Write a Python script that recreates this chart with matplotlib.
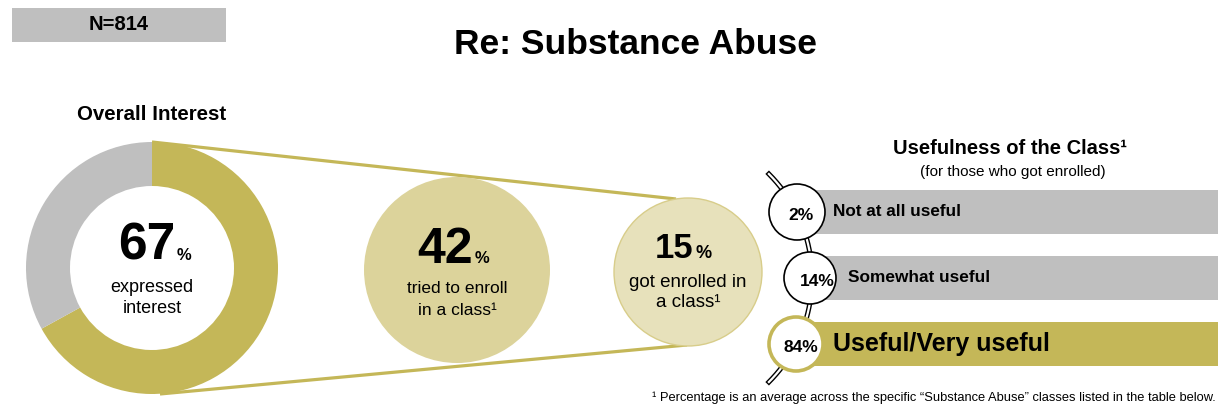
import numpy as np
import matplotlib.pyplot as plt
from matplotlib.patches import Wedge, Circle, Rectangle

plt.rcParams['font.family'] = ['Liberation Sans', 'DejaVu Sans']

# data
sample_n = 814
overall_pct = 67
funnel_pcts = [42, 15]
funnel_lines = [["tried to enroll", "in a class¹"], ["got enrolled in", "a class¹"]]
useful_pcts = [2, 14, 84]
useful_labels = ["Not at all useful", "Somewhat useful", "Useful/Very useful"]

gold = '#c4b758'
grey = '#bfbfbf'
light1 = '#dcd39b'
light2 = '#e7e1bb'

W, H = 1220, 409
fig = plt.figure(figsize=(W / 100, H / 100), dpi=100)
ax = fig.add_axes([0, 0, 1, 1])
ax.set_xlim(0, W)
ax.set_ylim(H, 0)
ax.axis('off')

# header
ax.add_patch(Rectangle((12, 8), 214, 34, color=grey, lw=0))
ax.text(119, 25, f"N={sample_n}", ha='center', va='center', fontsize=14.5, fontweight='bold')
ax.text(635, 45, "Re: Substance Abuse", ha='center', va='center', fontsize=25.5, fontweight='bold')

# donut
cx, cy, r_out, r_in = 152, 268, 126, 82
ang = 360 * overall_pct / 100
ax.add_patch(Wedge((cx, cy), r_out, 270, 270 + ang, width=r_out - r_in, color=gold, lw=0, zorder=3))
ax.add_patch(Wedge((cx, cy), r_out, 270 + ang, 630, width=r_out - r_in, color=grey, lw=0, zorder=3))
ax.text(cx, 115, "Overall Interest", ha='center', va='center', fontsize=14.8, fontweight='bold')
ax.text(cx + 23, 260, f"{overall_pct}", ha='right', va='baseline', fontsize=37, fontweight='bold', zorder=5)
ax.text(cx + 25, 260, "%", ha='left', va='baseline', fontsize=12, fontweight='bold', zorder=5)
for i, s in enumerate(["expressed", "interest"]):
    ax.text(cx, 292 + 21 * i, s, ha='center', va='baseline', fontsize=13, zorder=5)

# funnel lines
ax.plot([152, 676], [142, 199], color=gold, lw=2.3, zorder=2, solid_capstyle='butt')
ax.plot([160, 687], [394, 345], color=gold, lw=2.3, zorder=2, solid_capstyle='butt')

# funnel circles
fc = [(457, 270, 93, light1, 'none', 36, 12, 16, 263, [293, 315], 12.5),
      (688, 272, 74, light2, '#d8cd8a', 25, 13, 5, 258, [287, 307], 13.5)]
for (x, y, r, fcol, ecol, fs, pfs, dx, base, lines_y, tfs), pct, lines in zip(fc, funnel_pcts, funnel_lines):
    ax.add_patch(Circle((x, y), r, facecolor=fcol, edgecolor=ecol, lw=1, zorder=3))
    ax.text(x + dx, base, f"{pct}", ha='right', va='baseline', fontsize=fs, fontweight='bold', zorder=5)
    ax.text(x + dx + 2, base, "%", ha='left', va='baseline', fontsize=pfs, fontweight='bold', zorder=5)
    for s, ly in zip(lines, lines_y):
        ax.text(x, ly, s, ha='center', va='baseline', fontsize=tfs, zorder=5)

# usefulness panel
ax.text(1010, 149, "Usefulness of the Class¹", ha='center', va='center', fontsize=14.5, fontweight='bold')
ax.text(1013, 172, "(for those who got enrolled)", ha='center', va='center', fontsize=11)

bar_y = [212, 278, 344]
bar_x = [797, 810, 796]
bar_cols = [grey, grey, gold]
ax.barh(bar_y, [1218 - b for b in bar_x], left=bar_x, height=44, color=bar_cols, zorder=1)

# double-line arc
acx, acy, ar = 665, 278, 147
t = np.linspace(np.arcsin(-104 / ar), np.arcsin(104 / ar), 200)
ax.plot(acx + ar * np.cos(t), acy + ar * np.sin(t), color='black', lw=3.6, zorder=2)
ax.plot(acx + ar * np.cos(t), acy + ar * np.sin(t), color='white', lw=1.6, zorder=2)

circ_r = [28, 26, 27]
circ_ec = ['black', 'black', gold]
circ_lw = [1.2, 1.2, 2.6]
txt_x = [801, 817, 801]
lab_x = [833, 848, 833]
lab_fs = [12.3, 12.4, 18]
for y, x, r, ec, lw, tx, lx, fs, pct, lab in zip(bar_y, bar_x, circ_r, circ_ec, circ_lw, txt_x, lab_x, lab_fs, useful_pcts, useful_labels):
    ax.add_patch(Circle((x, y), r, facecolor='white', edgecolor=ec, lw=lw, zorder=3))
    ax.text(tx, y + 3, f"{pct}%", ha='center', va='center', fontsize=12.5, fontweight='bold', zorder=5)
    ax.text(lx, y, lab, ha='left', va='center', fontsize=fs, fontweight='bold', zorder=5)

ax.text(1216, 398, "¹ Percentage is an average across the specific \u201cSubstance Abuse\u201d classes listed in the table below.",
        ha='right', va='center', fontsize=9.3)

fig.savefig('out.png', dpi=100)
